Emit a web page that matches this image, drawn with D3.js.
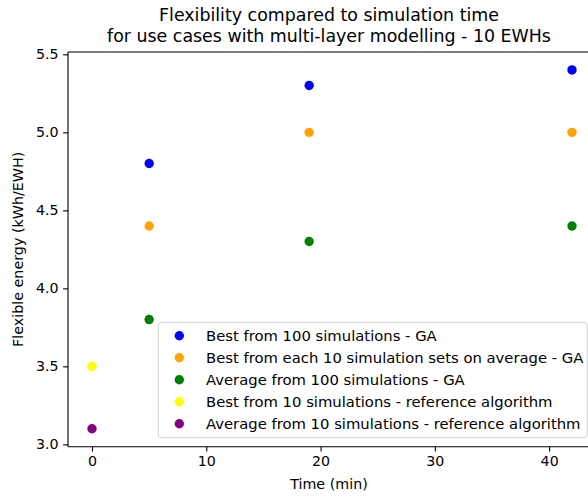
<!DOCTYPE html>
<html>
<head>
<meta charset="utf-8">
<script src="https://cdn.jsdelivr.net/npm/d3@7"></script>
<style>
  html, body { margin: 0; padding: 0; background: #fff; }
  svg { display: block; }
  text { font-family: "DejaVu Sans", sans-serif; fill: #000; }
</style>
</head>
<body>
<svg id="chart" width="588" height="498"></svg>
<script>
// ---- data ----
const gaTimes = [5, 19, 42];
const bestGA = [4.8, 5.3, 5.4];
const bestSetsAvgGA = [4.4, 5.0, 5.0];
const averageGA = [3.8, 4.3, 4.4];
const refTimes = [0];
const bestRef = [3.5];
const averageRef = [3.1];
const xTicks = [0, 10, 20, 30, 40];
const yTicks = [3.0, 3.5, 4.0, 4.5, 5.0, 5.5];
const seriesNames = [
  "Best from 100 simulations - GA",
  "Best from each 10 simulation sets on average - GA",
  "Average from 100 simulations - GA",
  "Best from 10 simulations - reference algorithm",
  "Average from 10 simulations - reference algorithm"
];
const seriesColors = ["blue", "orange", "green", "yellow", "purple"];
const titleLines = [
  "Flexibility compared to simulation time",
  "for use cases with multi-layer modelling - 10 EWHs"
];

const series = [
  { name: seriesNames[0], color: seriesColors[0], x: gaTimes, y: bestGA },
  { name: seriesNames[1], color: seriesColors[1], x: gaTimes, y: bestSetsAvgGA },
  { name: seriesNames[2], color: seriesColors[2], x: gaTimes, y: averageGA },
  { name: seriesNames[3], color: seriesColors[3], x: refTimes, y: bestRef },
  { name: seriesNames[4], color: seriesColors[4], x: refTimes, y: averageRef }
];

// ---- layout ----
const svg = d3.select("#chart");
const L = 68, R = 596, T = 52, B = 446.7;

const allX = series.flatMap(s => s.x);
const allY = series.flatMap(s => s.y);
const [xmin, xmax] = d3.extent(allX);
const [ymin, ymax] = d3.extent(allY);
const xm = (xmax - xmin) * 0.05, ym = (ymax - ymin) * 0.05;

const x = d3.scaleLinear().domain([xmin - xm, xmax + xm]).range([L, R]);
const y = d3.scaleLinear().domain([ymin - ym, ymax + ym]).range([B, T]);

// axes
const xAxis = svg.append("g").attr("transform", `translate(0,${B})`)
  .call(d3.axisBottom(x).tickValues(xTicks).tickFormat(d3.format("d")).tickSize(4.9).tickPadding(4.5));
const yAxis = svg.append("g").attr("transform", `translate(${L},0)`)
  .call(d3.axisLeft(y).tickValues(yTicks).tickFormat(d3.format(".1f")).tickSize(4.9).tickPadding(4.5));
[xAxis, yAxis].forEach(g => {
  g.select(".domain").remove();
  g.selectAll(".tick line").attr("stroke", "#000").attr("stroke-width", 1.1);
  g.selectAll(".tick text").attr("font-size", "14.2px").attr("fill", "#222")
    .attr("font-family", "DejaVu Sans, sans-serif");
});

// spines
const spine = svg.append("g").attr("stroke", "#000").attr("stroke-width", 1.1).attr("fill", "none");
spine.append("line").attr("x1", L).attr("x2", L).attr("y1", T).attr("y2", B);
spine.append("line").attr("x1", L).attr("x2", R).attr("y1", B).attr("y2", B);
spine.append("line").attr("x1", L).attr("x2", R).attr("y1", T).attr("y2", T);
spine.append("line").attr("x1", R).attr("x2", R).attr("y1", T).attr("y2", B);

// points
series.forEach(s => {
  svg.append("g").selectAll("circle")
    .data(s.x.map((v, i) => [v, s.y[i]]))
    .join("circle")
    .attr("cx", d => x(d[0]))
    .attr("cy", d => y(d[1]))
    .attr("r", 4.7)
    .attr("fill", s.color);
});

// title
const cx = (L + R) / 2 - 3;
svg.append("g").selectAll("text").data(titleLines).join("text")
  .attr("x", cx).attr("y", (d, i) => 21 + i * 20.5)
  .attr("text-anchor", "middle").attr("font-size", "17.4px").attr("fill", "#222")
  .text(d => d);

// axis labels
svg.append("text").attr("x", cx).attr("y", 489)
  .attr("text-anchor", "middle").attr("font-size", "14.3px").attr("fill", "#222")
  .text("Time (min)");
svg.append("text").attr("transform", `translate(23,${(T + B) / 2}) rotate(-90)`)
  .attr("text-anchor", "middle").attr("font-size", "14.3px").attr("fill", "#222")
  .text("Flexible energy (kWh/EWH)");

// legend
const lg = svg.append("g");
lg.append("rect").attr("x", 158.3).attr("y", 322.3).attr("width", 429).attr("height", 115.4)
  .attr("rx", 3).attr("fill", "#fff").attr("fill-opacity", 0.8)
  .attr("stroke", "#d0d0d0").attr("stroke-width", 1);
series.forEach((s, i) => {
  const yy = 335.7 + i * 22;
  lg.append("circle").attr("cx", 179.3).attr("cy", yy).attr("r", 4.7).attr("fill", s.color);
  lg.append("text").attr("x", 206).attr("y", yy + 5.2).attr("font-size", "14.8px").attr("fill", "#222")
    .text(s.name);
});
</script>
</body>
</html>
